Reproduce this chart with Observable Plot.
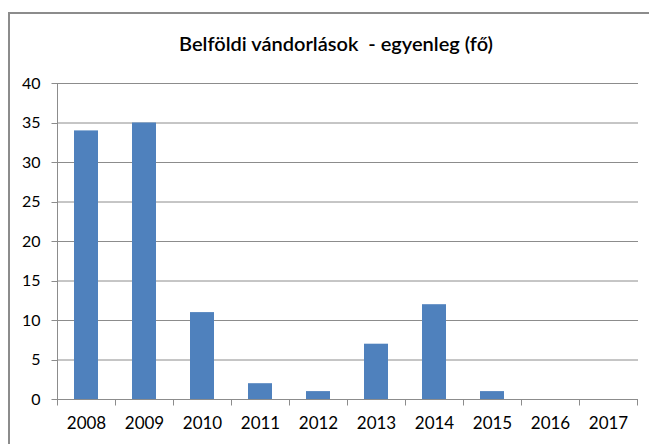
<!DOCTYPE html>
<html><head><meta charset="utf-8">
<script src="https://cdn.jsdelivr.net/npm/d3@7"></script>
<script src="https://cdn.jsdelivr.net/npm/@observablehq/plot@0.6"></script>
<style>
html,body{margin:0;padding:0;background:#fff;overflow:hidden}
#wrap{position:relative;width:649px;height:444px;overflow:hidden}
#frame{position:absolute;left:8px;top:12px;width:700px;height:500px;border-top:2px solid #8c8c8c;border-left:2px solid #8c8c8c}
#title{position:absolute;top:33px;left:336px;transform:translateX(-50%);white-space:pre;font-family:Lato,sans-serif;font-size:20px;font-weight:600;color:#000;line-height:20px}
#chart{position:absolute;left:0;top:0}
</style></head><body>
<div id="wrap"><div id="frame"></div><div id="chart"></div><div id="title"></div></div>
<script>
const title = "Belföldi vándorlások  - egyenleg (fő)";
const years = ["2008","2009","2010","2011","2012","2013","2014","2015","2016","2017"];
const values = [34,35,11,2,1,7,12,1,0,0];
const yTicks = [0,5,10,15,20,25,30,35,40];

const gray = "#8c8c8c";
const data = years.map((year, i) => ({year, value: values[i]}));

document.getElementById("title").textContent = title;

// axis lines and tick marks (category boundary ticks + y tick marks), drawn from Plot's scales
const axisLines = (index, scales, vals, dims) => {
  const x = scales.x, y = scales.y;
  const step = x.step(), bw = x.bandwidth();
  const gap = (step - bw) / 2;
  const y0 = Math.round(y(0)) + 0.5;
  const left = Math.round(dims.marginLeft) + 0.5;
  const g = d3.create("svg:g").attr("stroke", gray).attr("fill", "none");
  const xs = years.map(d => x(d) - gap).concat([x(years[years.length - 1]) + bw + gap]);
  g.selectAll("line.bx").data(xs).join("line").attr("class", "bx")
    .attr("x1", d => Math.round(d) + 0.5).attr("x2", d => Math.round(d) + 0.5)
    .attr("y1", y0).attr("y2", y0 + 6);
  g.selectAll("line.ty").data(yTicks).join("line").attr("class", "ty")
    .attr("x1", left - 6).attr("x2", left)
    .attr("y1", d => Math.round(y(d)) + 0.5).attr("y2", d => Math.round(y(d)) + 0.5);
  g.append("line").attr("x1", left).attr("x2", left)
    .attr("y1", Math.round(y(yTicks[yTicks.length - 1])) + 0.5).attr("y2", y0);
  return g.node();
};

const chart = Plot.plot({
  width: 649,
  height: 444,
  marginLeft: 57,
  marginRight: 11,
  marginTop: 83,
  marginBottom: 45,
  style: {fontFamily: "Lato, sans-serif", fontSize: "16px", color: "#000", background: "transparent", overflow: "visible"},
  x: {domain: years, paddingInner: 0.586, paddingOuter: 0.293, label: null},
  y: {domain: [0, 40], ticks: yTicks, label: null},
  marks: [
    Plot.gridY(yTicks, {stroke: gray, strokeOpacity: 1}),
    Plot.barY(data, {x: "year", y: "value", fill: "#4f81bd"}),
    axisLines,
    Plot.axisY(yTicks, {tickSize: 0, tickPadding: 17, fill: "#000"}),
    Plot.axisX({tickSize: 0, tickPadding: 17, fill: "#000", fontSize: 17})
  ]
});
document.getElementById("chart").appendChild(chart);
</script>
</body></html>
